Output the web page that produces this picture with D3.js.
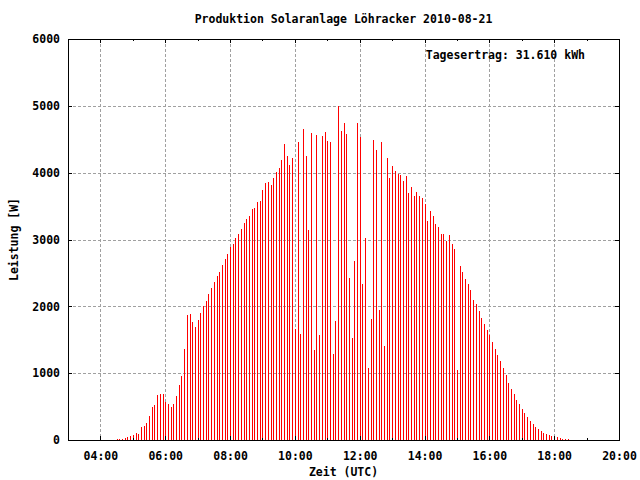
<!DOCTYPE html>
<html>
<head>
<meta charset="utf-8">
<script src="https://cdn.jsdelivr.net/npm/d3@7"></script>
<style>
  html, body { margin: 0; padding: 0; background: #fff; }
  svg { display: block; }
  text { font-family: "DejaVu Sans Mono", monospace; font-weight: bold; font-size: 11.5px; fill: #000; }
</style>
</head>
<body>
<svg id="chart" width="640" height="480"></svg>
<script>
// ---- data ----
const chartTitle = "Produktion Solaranlage Löhracker 2010-08-21";
const xLabel = "Zeit (UTC)";
const yLabel = "Leistung [W]";
const dailyYield = "Tagesertrag: 31.610 kWh";
const firstSample = "04:30";      // time of first 5-minute sample
const sampleStepMinutes = 5;
const leistung = [
  15, 15, 15, 35, 45, 60, 75, 105, 90, 195,
  210, 255, 360, 495, 525, 675, 690, 690, 570, 540,
  495, 540, 660, 825, 960, 1365, 1875, 1890, 1770, 1695,
  1800, 1905, 2010, 2085, 2190, 2280, 2370, 2460, 2520, 2625,
  2715, 2790, 2895, 2940, 3015, 3075, 3150, 3240, 3300, 3345,
  3450, 3465, 3555, 3570, 3735, 3840, 3855, 3810, 3915, 4005,
  4065, 4185, 4425, 4245, 4110, 4220, 1665, 4455, 1590, 4650,
  4245, 3135, 4590, 1350, 4560, 1575, 4545, 4605, 4470, 4455,
  1290, 1785, 4995, 4620, 4740, 4575, 2430, 1530, 2685, 4740,
  4530, 2340, 3015, 1080, 1815, 4485, 4335, 1950, 4455, 1410,
  4215, 3915, 4095, 4020, 3975, 3960, 3870, 3945, 3690, 3780,
  3645, 3705, 3645, 3615, 3525, 3270, 3420, 3345, 3225, 3180,
  3075, 3075, 2985, 3060, 2940, 2865, 1050, 2610, 2510, 2405,
  2330, 2240, 2090, 2030, 1925, 1820, 1740, 1650, 1575, 1470,
  1365, 1275, 1185, 1080, 975, 855, 765, 690, 600, 540,
  465, 405, 345, 285, 240, 195, 165, 135, 105, 90,
  75, 60, 60, 45, 30, 15, 15, 15
];
const xDomain = ["03:00", "20:00"];
const xMajorTicks = ["04:00", "06:00", "08:00", "10:00", "12:00", "14:00", "16:00", "18:00", "20:00"];
const xMinorTicks = ["03:00", "05:00", "07:00", "09:00", "11:00", "13:00", "15:00", "17:00", "19:00"];
const yTicks = [0, 1000, 2000, 3000, 4000, 5000, 6000];

// ---- layout ----
const L = 68, R = 619, T = 39, B = 440;
const svg = d3.select("#chart");
const parse = d3.timeParse("%H:%M");
const x = d3.scaleTime().domain(xDomain.map(parse)).range([L, R]);
const y = d3.scaleLinear().domain([0, 6000]).range([B, T]);

const t0 = parse(firstSample);
const samples = leistung.map((v, i) => ({ t: d3.timeMinute.offset(t0, i * sampleStepMinutes), v }));

svg.append("rect").attr("width", 640).attr("height", 480).attr("fill", "#fff");

// grid
const grid = svg.append("g").attr("stroke", "#a0a0a0").attr("stroke-width", 1).attr("stroke-dasharray", "3,2");
grid.selectAll("line.h").data(yTicks.filter(d => d > 0 && d < 6000)).join("line")
  .attr("x1", L).attr("x2", R)
  .attr("y1", d => Math.round(y(d)) + 0.5).attr("y2", d => Math.round(y(d)) + 0.5);
grid.selectAll("line.v").data(xMajorTicks.map(parse).filter(d => x(d) < R - 1)).join("line")
  .attr("x1", d => Math.round(x(d)) + 0.5).attr("x2", d => Math.round(x(d)) + 0.5)
  .attr("y1", T).attr("y2", B);

// bars (impulses)
svg.append("g").attr("shape-rendering", "crispEdges").selectAll("rect").data(samples).join("rect")
  .attr("x", d => Math.round(x(d.t)))
  .attr("width", 1.4)
  .attr("y", d => Math.round(y(d.v)))
  .attr("height", d => B - Math.round(y(d.v)))
  .attr("fill", "#ff0000");

// axes via d3 axis generators
const fmt = d3.timeFormat("%H:%M");
const xAxisB = d3.axisBottom(x).tickValues(xMajorTicks.map(parse)).tickFormat(fmt).tickSizeInner(-4).tickSizeOuter(0).tickPadding(12);
svg.append("g").attr("transform", `translate(0,${B})`).call(xAxisB);
const xAxisBm = d3.axisBottom(x).tickValues(xMinorTicks.map(parse)).tickFormat("").tickSizeInner(-2).tickSizeOuter(0);
svg.append("g").attr("transform", `translate(0,${B})`).call(xAxisBm);
const xAxisT = d3.axisTop(x).tickValues(xMajorTicks.map(parse)).tickFormat("").tickSizeInner(-4).tickSizeOuter(0);
svg.append("g").attr("transform", `translate(0,${T})`).call(xAxisT);
const xAxisTm = d3.axisTop(x).tickValues(xMinorTicks.map(parse)).tickFormat("").tickSizeInner(-2).tickSizeOuter(0);
svg.append("g").attr("transform", `translate(0,${T})`).call(xAxisTm);

const yAxisL = d3.axisLeft(y).tickValues(yTicks).tickFormat(d3.format("d")).tickSizeInner(-4).tickSizeOuter(0).tickPadding(8);
svg.append("g").attr("transform", `translate(${L},0)`).call(yAxisL);
const yAxisR = d3.axisRight(y).tickValues(yTicks).tickFormat("").tickSizeInner(-4).tickSizeOuter(0);
svg.append("g").attr("transform", `translate(${R},0)`).call(yAxisR);

svg.selectAll(".domain").remove();
svg.selectAll(".tick line").attr("stroke", "#000").attr("shape-rendering", "crispEdges");
svg.selectAll(".tick text").attr("font-family", null).attr("font-size", null).attr("fill", "#000");

// frame
svg.append("rect").attr("x", L + 0.5).attr("y", T + 0.5).attr("width", R - L).attr("height", B - T)
  .attr("fill", "none").attr("stroke", "#000").attr("stroke-width", 1);

// texts
svg.append("text").attr("x", (L + R) / 2).attr("y", 23).attr("text-anchor", "middle").text(chartTitle);
svg.append("text").attr("x", (L + R) / 2).attr("y", 476).attr("text-anchor", "middle").text(xLabel);
svg.append("text").attr("transform", `translate(18,${(T + B) / 2}) rotate(-90)`).attr("text-anchor", "middle").text(yLabel);
svg.append("text").attr("x", 585).attr("y", 59).attr("text-anchor", "end").text(dailyYield);
</script>
</body>
</html>
